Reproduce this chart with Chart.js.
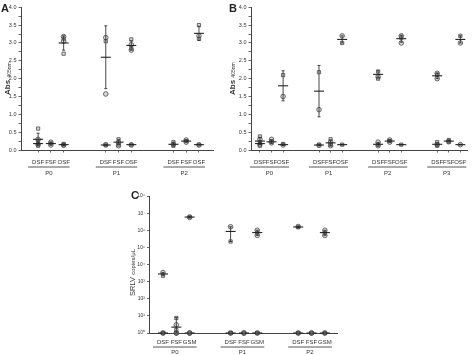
<!DOCTYPE html>
<html><head><meta charset="utf-8">
<script src="https://cdn.jsdelivr.net/npm/chart.js@4.4.1/dist/chart.umd.min.js"></script>
<style>
body{margin:0;background:#fff;width:474px;height:355px;overflow:hidden;position:relative;font-family:"Liberation Sans",Arial,sans-serif}
canvas{position:absolute}
.lbl{position:absolute;font-weight:bold;font-size:11px;color:#222;line-height:11px}
</style></head><body>
<canvas id="cA" width="224" height="180" style="left:0;top:0"></canvas>
<canvas id="cB" width="250" height="180" style="left:224px;top:0"></canvas>
<canvas id="cC" width="260" height="170" style="left:100px;top:185px"></canvas>
<div class="lbl" style="left:1px;top:3px">A</div>
<div class="lbl" style="left:229px;top:3px">B</div>
<div class="lbl" style="left:131px;top:190px">C</div>
<script>
// ---------- DATA ----------
const subAB = ['DSF', 'FSF', 'OSF'];
const subC = ['DSF', 'FSF', 'GSM'];
const groupsA = ['P0', 'P1', 'P2'];
const groupsB = ['P0', 'P1', 'P2', 'P3'];
const groupsC = ['P0', 'P1', 'P2'];
const absTickLabels = ['0.0', '0.5', '1.0', '1.5', '2.0', '2.5', '3.0', '3.5', '4.0'];
const logTickLabels = ['10⁰', '10¹', '10²', '10³', '10⁴', '10⁵', '10⁶', '10⁷', '10⁸'];

// Panel A: individual points (category index, value)
const aPtCat = [0,0,0,0,0, 1,1,1, 2,2,2,2,2,2,2, 3,3,3,3,3, 4,4,4,4, 5,5,5,5,5,5, 6,6,6, 7,7,7, 8,8,8,8,8];
const aPtVal = [0.6,0.3,0.22,0.15,0.12, 0.22,0.18,0.14, 0.17,0.14,0.13,3.18,3.12,3.05,2.7, 0.15,0.13,3.15,3.05,1.57, 0.3,0.2,0.15,0.12, 0.15,0.14,3.1,2.95,2.85,2.8, 0.22,0.16,0.12, 0.28,0.25,0.22, 0.15,0.14,3.5,3.2,3.12];
// Panel A: means and SD
const aMeanCat = [0, 0, 1, 2, 2, 3, 3, 4, 5, 5, 6, 7, 8, 8];
const aMean = [0.3, 0.18, 0.18, 0.15, 3.0, 0.14, 2.6, 0.22, 0.15, 2.93, 0.16, 0.25, 0.15, 3.27];
const aSD = [0.17, 0.04, 0.04, 0.02, 0.2, 0.01, 0.88, 0.07, 0.01, 0.13, 0.05, 0.03, 0.01, 0.2];

// Panel B
const bPtCat = [0,0,0,0,0, 1,1,1, 2,2,2,2, 3,3,3,3, 4,4,4,4, 5,5,5, 6,6,6,6,6,6, 7,7,7, 8,8,8,8, 9,9,9,9,9,9, 10,10,10, 11,11,11];
const bPtVal = [0.38,0.3,0.22,0.15,0.12, 0.3,0.25,0.2, 0.17,0.14,2.1,1.5, 0.15,0.13,2.18,1.13, 0.3,0.22,0.15,0.12, 0.15,3.2,3.0, 0.22,0.15,0.12,2.2,2.05,2.0, 0.28,0.25,0.22, 0.15,3.2,3.15,3.0, 0.22,0.15,0.12,2.15,2.1,2.0, 0.28,0.24,0.22, 0.15,3.2,3.0];
const bMeanCat = [0, 0, 1, 2, 2, 3, 3, 4, 5, 5, 6, 6, 7, 8, 8, 9, 9, 10, 11, 11];
const bMean = [0.25, 0.18, 0.23, 0.15, 1.8, 0.14, 1.65, 0.2, 0.15, 3.1, 0.16, 2.12, 0.25, 0.15, 3.12, 0.16, 2.08, 0.25, 0.15, 3.1];
const bSD = [0.1, 0.03, 0.05, 0.02, 0.42, 0.01, 0.72, 0.08, 0.01, 0.1, 0.05, 0.1, 0.03, 0.01, 0.1, 0.05, 0.08, 0.03, 0.01, 0.1];

// Panel C (SRLV copies/µL, log scale)
const cPtCat = [0,0,0,0,0, 1,1,1,1,1,1, 2,2,2,2,2, 3,3,3,3,3, 4,4,4, 5,5,5,5,5,5, 6,6,6,6,6, 7,7,7, 8,8,8,8,8,8];
const cPtVal = [1,1,1,3400,2200, 1,1,1,1.5,3,7.5, 1,1,1,6.2e6,5.6e6, 1,1,1,1.6e6,2.2e5, 1,1,1, 1,1,1,1.0e6,7e5,5e5, 1,1,1,1.65e6,1.5e6, 1,1,1, 1,1,1,1.0e6,7e5,5e5];
const cMeanCat = [0, 0, 1, 2, 2, 3, 3, 4, 5, 5, 6, 6, 7, 8, 8];
const cMean = [1, 2800, 2.2, 1, 5.9e6, 1, 8.5e5, 1, 1, 7.3e5, 1, 1.55e6, 1, 1, 7.3e5];
const cLow = [1, 2200, 1, 1, 5.5e6, 1, 2.2e5, 1, 1, 5e5, 1, 1.45e6, 1, 1, 5e5];
const cHigh = [1, 3400, 7.9, 1, 6.3e6, 1, 1.6e6, 1, 1, 1.0e6, 1, 1.65e6, 1, 1, 1.0e6];

// ---------- RENDERING ----------
const FONT = '"Liberation Sans", Arial, sans-serif';
const NARROW = '"Liberation Sans Narrow", "Liberation Sans", Arial, sans-serif';
const INK = '#333';

const decor = {
  id: 'decor',
  afterDraw(chart) {
    const o = chart.options.plugins.decor;
    if (!o) return;
    const ctx = chart.ctx, xs = chart.scales.x, ca = chart.chartArea;
    ctx.save();
    ctx.strokeStyle = '#444'; ctx.lineWidth = 0.9; ctx.fillStyle = INK;
    ctx.textAlign = 'center'; ctx.textBaseline = 'middle';
    ctx.font = o.groupFont + 'px ' + NARROW;
    o.groups.forEach((g, gi) => {
      const x1 = xs.getPixelForValue(gi * o.gap) - o.ul;
      const x2 = xs.getPixelForValue(gi * o.gap + o.n - 1) + o.ur;
      ctx.beginPath(); ctx.moveTo(x1, o.lineY); ctx.lineTo(x2, o.lineY); ctx.stroke();
      ctx.fillText(g, (x1 + x2) / 2, o.groupY);
    });
    // rotated y title with smaller second part
    ctx.translate(o.titleX, (ca.top + ca.bottom) / 2 + (o.titleDY || 0));
    ctx.rotate(-Math.PI / 2);
    ctx.textAlign = 'left';
    let total = 0;
    o.title.forEach(p => { ctx.font = (p.bold ? 'bold ' : '') + p.size + 'px ' + FONT; total += ctx.measureText(p.text).width; });
    let x = -total / 2;
    o.title.forEach(p => {
      ctx.font = (p.bold ? 'bold ' : '') + p.size + 'px ' + FONT;
      ctx.fillText(p.text, x, p.dy);
      x += ctx.measureText(p.text).width;
    });
    ctx.restore();
  }
};

function catX(i, gap, n) { return Math.floor(i / n) * gap + (i % n); }

function buildDatasets(ptCat, ptVal, meanCat, mean, lo, hi, gap, n, r) {
  const err = [];
  meanCat.forEach((c, i) => {
    if (hi[i] === lo[i]) return;
    const x = catX(c, gap, n);
    err.push({x, y: lo[i]}, {x, y: hi[i]}, {x, y: null});
  });
  return [
    {
      label: 'points', order: 3, clip: false, showLine: false,
      data: ptCat.map((c, i) => ({x: catX(c, gap, n), y: ptVal[i]})),
      pointStyle: ctx => (ctx.dataIndex % 2 ? 'circle' : 'rect'),
      pointRadius: r, pointBorderWidth: 0.8,
      pointBorderColor: '#4a4a4a', pointBackgroundColor: 'rgba(150,150,150,0.35)'
    },
    {
      label: 'sd', order: 2, clip: false, showLine: true, spanGaps: false,
      data: err, borderColor: '#333', borderWidth: 0.9,
      pointStyle: 'line', pointRadius: ctx => (ctx.raw && ctx.raw.y !== null ? 1.5 : 0),
      pointBorderColor: '#333', pointBorderWidth: 0.9
    },
    {
      label: 'mean', order: 1, clip: false, showLine: false,
      data: meanCat.map((c, i) => ({x: catX(c, gap, n), y: mean[i]})),
      pointStyle: 'line', pointRadius: 5, pointBorderWidth: 1.1, pointBorderColor: '#222'
    }
  ];
}

function xScale(nCats, gap, n, sub, min, max, h, pad) {
  const pos = [];
  for (let i = 0; i < nCats; i++) pos.push(catX(i, gap, n));
  return {
    type: 'linear', min, max,
    afterBuildTicks: s => { s.ticks = pos.map(v => ({value: v})); },
    afterFit: s => { s.height = h; },
    ticks: {
      callback: (v, i) => sub[i % n], autoSkip: false, maxRotation: 0,
      font: {family: NARROW, size: 6}, color: INK, padding: pad
    },
    grid: {drawOnChartArea: false, tickLength: 2.5, color: '#444', tickWidth: 0.8},
    border: {color: '#444', width: 1}
  };
}

function absY(w) {
  return {
    type: 'linear', min: 0, max: 4,
    afterBuildTicks: s => {
      const t = [];
      for (let k = 0; k <= 16; k++) t.push({value: k * 0.25});
      s.ticks = t;
    },
    afterFit: s => { s.width = w; },
    ticks: {
      callback: (v, i) => (i % 2 === 0 ? absTickLabels[i / 2] : ''),
      font: {family: FONT, size: 5.5}, color: INK, padding: 2, autoSkip: false
    },
    grid: {drawOnChartArea: false, tickLength: 2.5, color: '#444', tickWidth: 0.8},
    border: {color: '#444', width: 1}
  };
}

const common = {
  responsive: false, animation: false, devicePixelRatio: 1,
  events: []
};

const absTitle = [
  {text: 'Abs ', size: 8, bold: true, dy: 0},
  {text: '405nm', size: 5, bold: false, dy: 1.5}
];

// Panel A
new Chart(document.getElementById('cA'), {
  type: 'scatter',
  data: {datasets: buildDatasets(aPtCat, aPtVal, aMeanCat, aMean,
    aMean.map((m, i) => m - aSD[i]), aMean.map((m, i) => m + aSD[i]), 5.3, 3, 2.3)},
  options: Object.assign({}, common, {
    layout: {padding: {top: 7.3, right: 11, bottom: 0, left: 0}},
    scales: {x: xScale(9, 5.3, 3, subAB, -1.34, 13.7, 30, 6), y: absY(21)},
    plugins: {legend: {display: false}, tooltip: {enabled: false},
      decor: {groups: groupsA, n: 3, gap: 5.3, ul: 10, ur: 6, lineY: 167, groupY: 173.5, groupFont: 6,
        titleX: 8, title: absTitle}}
  }),
  plugins: [decor]
});

// Panel B
new Chart(document.getElementById('cB'), {
  type: 'scatter',
  data: {datasets: buildDatasets(bPtCat, bPtVal, bMeanCat, bMean,
    bMean.map((m, i) => m - bSD[i]), bMean.map((m, i) => m + bSD[i]), 5.1, 3, 2.3)},
  options: Object.assign({}, common, {
    layout: {padding: {top: 7.3, right: 4, bottom: 0, left: 0}},
    scales: {x: xScale(12, 5.1, 3, subAB, -0.77, 17.95, 30, 6), y: absY(27)},
    plugins: {legend: {display: false}, tooltip: {enabled: false},
      decor: {groups: groupsB, n: 3, gap: 5.1, ul: 10, ur: 6, lineY: 167, groupY: 173.5, groupFont: 6,
        titleX: 8.5, title: absTitle}}
  }),
  plugins: [decor]
});

// Panel C
new Chart(document.getElementById('cC'), {
  type: 'scatter',
  data: {datasets: buildDatasets(cPtCat, cPtVal, cMeanCat, cMean, cLow, cHigh, 5.07, 3, 2.3)},
  options: Object.assign({}, common, {
    layout: {padding: {top: 11, right: 23, bottom: 0, left: 0}},
    scales: {
      x: xScale(9, 5.07, 3, subC, -1.05, 13.05, 22, 3),
      y: {
        type: 'logarithmic', min: 1, max: 1e8,
        afterBuildTicks: s => { s.ticks = logTickLabels.map((t, k) => ({value: Math.pow(10, k)})); },
        afterFit: s => { s.width = 49; },
        ticks: {callback: (v, i) => logTickLabels[i], font: {family: FONT, size: 5}, color: INK, padding: 2, autoSkip: false},
        grid: {drawOnChartArea: false, tickLength: 2, color: '#444', tickWidth: 0.8},
        border: {color: '#444', width: 1}
      }
    },
    plugins: {legend: {display: false}, tooltip: {enabled: false},
      decor: {groups: groupsC, n: 3, gap: 5.07, ul: 10, ur: 7, lineY: 162, groupY: 167.5, groupFont: 6,
        titleX: 33, titleDY: 8, title: [
          {text: 'SRLV ', size: 7.5, bold: false, dy: 0},
          {text: 'copies/µL', size: 6, bold: false, dy: 0}
        ]}}
  }),
  plugins: [decor]
});
</script>
</body></html>
